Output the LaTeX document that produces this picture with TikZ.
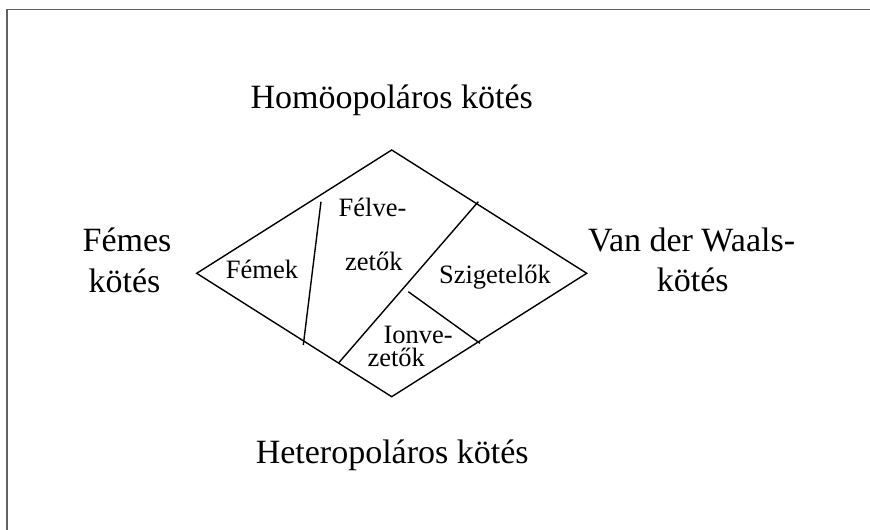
\documentclass[tikz,border=0pt]{standalone}
\usepackage{fontspec}
\setmainfont{Liberation Serif}
\begin{document}
\begin{tikzpicture}[x=1pt,y=-1pt,
  big/.style={inner sep=0pt,font=\fontsize{34}{40}\selectfont},
  small/.style={inner sep=0pt,font=\fontsize{26.5}{31}\selectfont},
  edge/.style={line width=1.4pt,line join=miter},
  frame/.style={draw=black!62,line width=1.6pt}]
\useasboundingbox (0,0) rectangle (870,530);
\draw[frame] (7,530) -- (7,9.5) -- (870,9.5);
% diamond vertices
\coordinate (L) at (196.7,273.3);
\coordinate (T) at (391.7,150);
\coordinate (R) at (586.7,273.3);
\coordinate (B) at (391.7,396.7);
\draw[edge] (L) -- (T) -- (R) -- (B) -- cycle;
% dividers
\coordinate (d1a) at (321,201.7);
\coordinate (d1b) at (303.3,345);
\coordinate (d2a) at (478.3,201.7);
\coordinate (d2b) at (338.3,363.3);
\coordinate (d3a) at (408.3,291.7);
\coordinate (d3b) at (480,343.3);
\draw[edge] (d1a) -- (d1b);
\draw[edge] (d2a) -- (d2b);
\draw[edge] (d3a) -- (d3b);
% outer labels
\node[big,anchor=base] (homo) at (391.7,108.3) {Homöopoláros kötés};
\node[big,anchor=base] (hetero) at (392.2,463.3) {Heteropoláros kötés};
\node[big,anchor=base] (fem1) at (127,251.7) {Fémes};
\node[big,anchor=base] (fem2) at (124.5,292) {kötés};
\node[big,anchor=base west] (vdw1) at (588,251.7) {Van der Waals-};
\node[big,anchor=base west] (vdw2) at (656.7,291.7) {kötés};
% inner labels
\node[small,anchor=base] (femek) at (262,278.3) {Fémek};
\node[small,anchor=base] (felv1) at (372.5,216.7) {Félve-};
\node[small,anchor=base] (felv2) at (373.8,270.7) {zetők};
\node[small,anchor=base] (szig) at (495,283.3) {Szigetelők};
\node[inner sep=0pt,font=\fontsize{26.5}{23}\selectfont,align=left,anchor=north west]
  (ion) at (367.3,325.8) {\hspace*{16pt}Ionve-\\zetők};
\end{tikzpicture}
\end{document}
